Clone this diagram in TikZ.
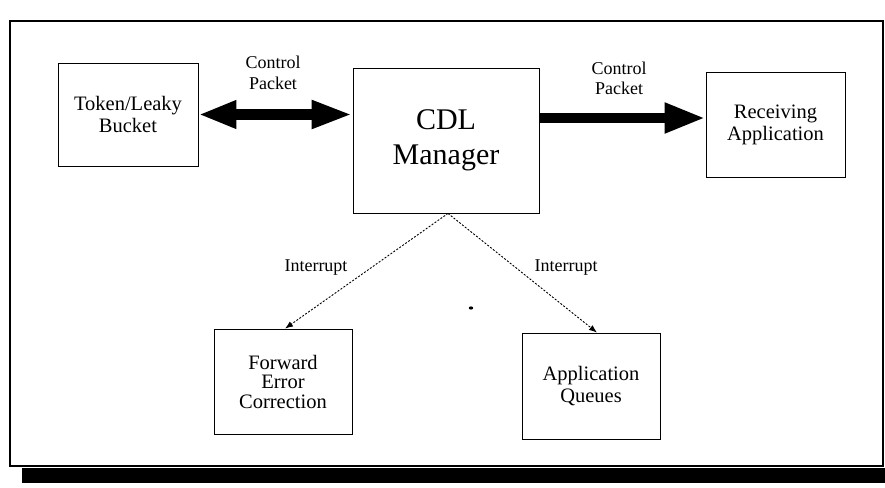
\documentclass[tikz,border=0pt]{standalone}
\usepackage{fontspec}
\setmainfont{Liberation Serif}
\usetikzlibrary{arrows.meta,calc}
\begin{document}
\begin{tikzpicture}[x=1pt,y=-1pt,
  blk/.style={draw=black,line width=0.8pt,align=center,inner sep=0pt,
    font=\fontsize{20.5}{22}\selectfont},
  lbl/.style={align=center,inner sep=0pt,font=\fontsize{18}{20.5}\selectfont},
  fat/.style={line width=10.5pt},
  irq/.style={line width=0.9pt,dash pattern=on 2pt off 1.6pt,
    -{Latex[length=8pt,width=6pt]}}]
  % canvas
  \useasboundingbox (0,0) rectangle (885,487);
  \fill[white] (0,0) rectangle (885,487);
  % outer frame with drop shadow
  \fill[black] (22,467.5) rectangle (885,483);
  \draw[line width=1.3pt] (10,466) -- (10,21) -- (883,21) -- (883,466) -- cycle;
  \draw[line width=2pt] (10,22) -- (10,466);
  % blocks
  \node[blk,minimum width=140,minimum height=103] (tb) at (128,114.5) {Token/Leaky\\Bucket};
  \node[blk,minimum width=186,minimum height=145,font=\fontsize{30}{35}\selectfont]
    (cdl) at (446,140.5) {CDL\\Manager};
  \node[blk,minimum width=139,minimum height=105] (ra) at (775.5,124.5) {Receiving\\Application};
  \node[blk,minimum width=138,minimum height=105,font=\fontsize{20.5}{19.5}\selectfont]
    (fec) at (283,381.5) {Forward\\Error\\Correction};
  \node[blk,minimum width=138,minimum height=106] (aq) at (591,386) {Application\\Queues};
  % control packet paths
  \draw[fat,{Triangle[length=38pt,width=26pt]}-{Triangle[length=41pt,width=26pt]}]
    (tb.east) -- (tb.east -| cdl.west);
  \draw[fat,-{Triangle[length=41pt,width=28pt]}]
    ([yshift=6.5pt]ra.west -| cdl.east) -- ([yshift=6.5pt]ra.west);
  \node[lbl] (cp1) at (273,73) {Control\\Packet};
  \node[lbl] (cp2) at (619,78.5) {Control\\Packet};
  % interrupts
  \coordinate (apex) at ([xshift=2pt]cdl.south);
  \draw[irq] (apex) -- ([xshift=2pt]fec.north);
  \draw[irq] (apex) -- ([xshift=6pt]aq.north);
  \node[lbl] (i1) at (316,268) {Interrupt};
  \node[lbl] (i2) at (566,268) {Interrupt};
  % stray mark
  \fill (471,308) ellipse (2.2 and 1.6);
\end{tikzpicture}
\end{document}
